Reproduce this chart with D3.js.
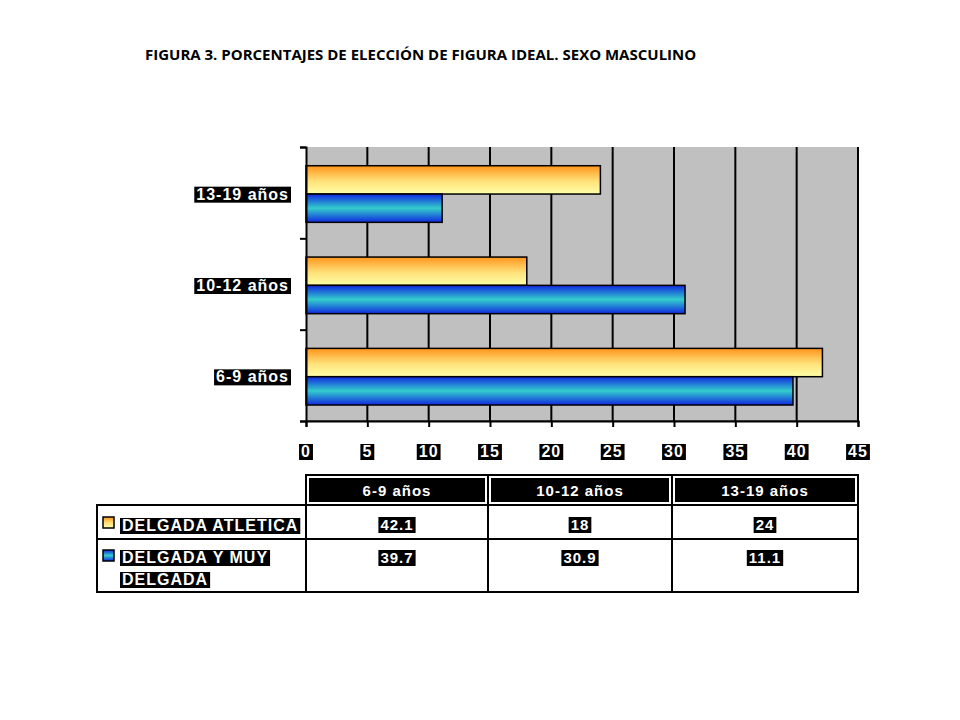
<!DOCTYPE html>
<html><head><meta charset="utf-8">
<script src="https://cdn.jsdelivr.net/npm/d3@7"></script>
<style>body{margin:0;background:#fff}</style></head>
<body><svg id="c" width="960" height="720"></svg>
<script>
const categories = ["6-9 años","10-12 años","13-19 años"];
const seriesNames = ["DELGADA ATLETICA","DELGADA Y MUY DELGADA"];
const atletica = [42.1,18,24];
const muyDelgada = [39.7,30.9,11.1];
const ticks = [0,5,10,15,20,25,30,35,40,45];
const title = "FIGURA 3. PORCENTAJES DE ELECCIÓN DE FIGURA IDEAL. SEXO MASCULINO";

const svg = d3.select("#c");
const defs = svg.append("defs");
const g1 = defs.append("linearGradient").attr("id","gO").attr("x1",0).attr("y1",0).attr("x2",0).attr("y2",1);
g1.append("stop").attr("offset","0%").attr("stop-color","#ff951c");
g1.append("stop").attr("offset","55%").attr("stop-color","#ffe27a");
g1.append("stop").attr("offset","100%").attr("stop-color","#ffffa8");
const g2 = defs.append("linearGradient").attr("id","gB").attr("x1",0).attr("y1",0).attr("x2",0).attr("y2",1);
g2.append("stop").attr("offset","0%").attr("stop-color","#1028e0");
g2.append("stop").attr("offset","50%").attr("stop-color","#33cccc");
g2.append("stop").attr("offset","100%").attr("stop-color","#1028e0");

svg.append("text").attr("x",145).attr("y",60).attr("font-family","Open Sans, Liberation Sans, sans-serif")
  .attr("font-weight","bold").attr("font-size",15).text(title);

const L=306,R=858,T=147,B=421;
const x = d3.scaleLinear().domain([0,45]).range([L,R]);
const y = d3.scaleBand().domain(categories.slice().reverse()).range([T,B]);
svg.append("rect").attr("x",L).attr("y",T).attr("width",R-L).attr("height",B-T).attr("fill","#c0c0c0");
svg.selectAll(".gl").data(ticks.slice(1)).enter().append("line")
  .attr("x1",d=>x(d)).attr("x2",d=>x(d)).attr("y1",T).attr("y2",B).attr("stroke","#000").attr("stroke-width",2);
svg.append("line").attr("x1",L).attr("x2",R).attr("y1",B).attr("y2",B).attr("stroke","#000").attr("stroke-width",1);

const bw = y.bandwidth();
categories.forEach((c,i)=>{
  const y0 = y(c);
  svg.append("rect").attr("x",x(0)).attr("y",y0+bw*0.205).attr("width",x(atletica[i])-x(0)).attr("height",bw*0.31)
    .attr("fill","url(#gO)").attr("stroke","#000").attr("stroke-width",1.5);
  svg.append("rect").attr("x",x(0)).attr("y",y0+bw*0.515).attr("width",x(muyDelgada[i])-x(0)).attr("height",bw*0.31)
    .attr("fill","url(#gB)").attr("stroke","#000").attr("stroke-width",1.5);
});

const yAx = svg.append("g").attr("transform",`translate(${L},0)`)
  .call(d3.axisLeft(d3.scaleLinear().domain([0,3]).range([B,T])).ticks(3).tickSize(6).tickFormat(""));
yAx.selectAll("line,path").attr("stroke","#000").attr("stroke-width",2);

const font = "Liberation Sans, Arial, sans-serif";
function blackLabel(xp,yp,txt,anchor,size){
  const t = svg.append("text").attr("x",xp).attr("y",yp).attr("text-anchor",anchor)
    .attr("font-family",font).attr("font-weight","bold").attr("font-size",size).attr("fill","#fff").attr("letter-spacing",1).text(txt);
  const bb = t.node().getBBox();
  svg.insert("rect", function(){return t.node();}).attr("x",bb.x-2).attr("y",bb.y+1).attr("width",bb.width+4).attr("height",bb.height-1).attr("fill","#000");
  return t;
}
categories.forEach(c=>blackLabel(289,y(c)+bw/2+7,c,"end",16));

const xAx = svg.append("g").attr("transform",`translate(0,${B})`).call(d3.axisBottom(x).tickValues(ticks).tickSize(6));
xAx.select(".domain").attr("stroke","#000").attr("stroke-width",2);
xAx.selectAll("line").attr("stroke","#000").attr("stroke-width",2);
xAx.selectAll("text").remove();
ticks.forEach(t=>blackLabel(x(t),457,String(t),"middle",16));

// table
const cols=[306,488,672,858];
const tb = svg.append("g");
tb.append("rect").attr("x",306).attr("y",475).attr("width",552).attr("height",30).attr("fill","none").attr("stroke","#000").attr("stroke-width",2);
[488,672].forEach(cx=>tb.append("line").attr("x1",cx).attr("x2",cx).attr("y1",475).attr("y2",592).attr("stroke","#000").attr("stroke-width",2));
tb.append("rect").attr("x",97).attr("y",505).attr("width",761).attr("height",87).attr("fill","none").attr("stroke","#000").attr("stroke-width",2);
tb.append("line").attr("x1",97).attr("x2",858).attr("y1",539).attr("y2",539).attr("stroke","#000").attr("stroke-width",2);
tb.append("line").attr("x1",306).attr("x2",306).attr("y1",505).attr("y2",592).attr("stroke","#000").attr("stroke-width",2);
categories.forEach((c,i)=>{
  tb.append("rect").attr("x",cols[i]+3).attr("y",478).attr("width",cols[i+1]-cols[i]-6).attr("height",24).attr("fill","#000");
  tb.append("text").attr("x",(cols[i]+cols[i+1])/2).attr("y",496).attr("text-anchor","middle").attr("font-family",font)
    .attr("font-weight","bold").attr("font-size",15).attr("fill","#fff").attr("letter-spacing",1).text(c);
  blackLabel((cols[i]+cols[i+1])/2,530,String(atletica[i]),"middle",15);
  blackLabel((cols[i]+cols[i+1])/2,563,String(muyDelgada[i]),"middle",15);
});
tb.append("rect").attr("x",103).attr("y",517).attr("width",11).attr("height",11).attr("fill","url(#gO)").attr("stroke","#000").attr("stroke-width",1.5);
tb.append("rect").attr("x",103).attr("y",550).attr("width",11).attr("height",11).attr("fill","url(#gB)").attr("stroke","#000").attr("stroke-width",1.5);
blackLabel(122,531,seriesNames[0],"start",16);
blackLabel(122,563,"DELGADA Y MUY","start",16);
blackLabel(122,585,"DELGADA","start",16);
</script></body></html>
